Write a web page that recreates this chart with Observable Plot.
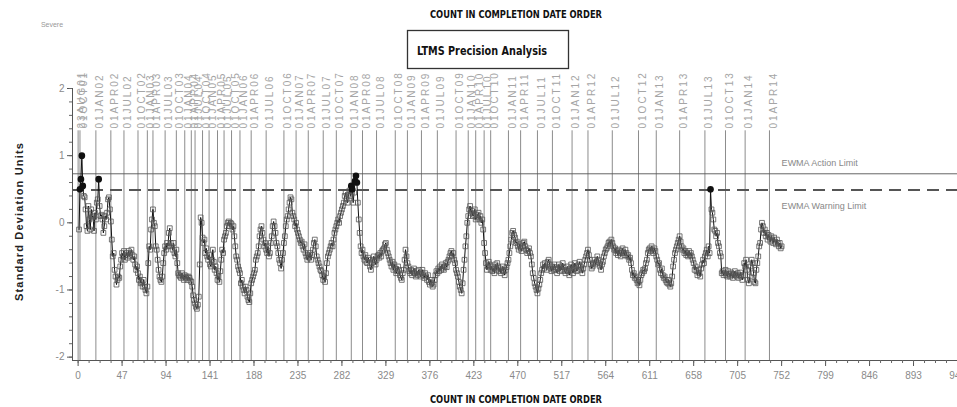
<!DOCTYPE html>
<html><head><meta charset="utf-8">
<script src="https://cdn.jsdelivr.net/npm/d3@7"></script>
<script src="https://cdn.jsdelivr.net/npm/@observablehq/plot@0.6"></script>
<style>
body{margin:0;background:#fff;}
#chart{width:957px;height:407px;}
</style></head><body><div id="chart"></div>
<script>
const ewma = [
-0.10,0.50,0.65,1.00,0.55,0.40,0.38,0.20,-0.05,-0.12,
0.25,0.05,-0.10,0.20,0.08,0.10,-0.12,0.15,0.05,0.30,
0.35,0.65,0.25,0.10,0.12,0.05,-0.15,-0.05,0.10,0.05,
0.15,0.35,0.38,0.20,0.02,-0.25,-0.50,-0.45,-0.70,-0.80,
-0.92,-0.85,-0.80,-0.82,-0.65,-0.55,-0.45,-0.50,-0.42,-0.55,
-0.48,-0.45,-0.52,-0.42,-0.50,-0.45,-0.40,-0.48,-0.55,-0.50,
-0.62,-0.70,-0.65,-0.75,-0.85,-0.80,-0.90,-0.88,-0.95,-0.85,
-0.95,-1.00,-1.05,-0.95,-0.60,-0.35,-0.40,-0.10,0.05,0.20,
0.00,-0.05,-0.35,-0.40,-0.55,-0.70,-0.80,-0.85,-0.88,-0.80,
-0.60,-0.45,-0.35,-0.40,-0.30,-0.35,-0.15,-0.08,-0.30,-0.35,
-0.40,-0.30,-0.45,-0.50,-0.40,-0.60,-0.75,-0.78,-0.80,-0.82,
-0.75,-0.80,-0.85,-0.78,-0.82,-0.80,-0.85,-0.80,-0.82,-0.86,
-0.88,-0.95,-1.08,-1.15,-1.20,-1.25,-1.28,-1.22,-1.10,-0.62,
0.08,0.00,-0.22,-0.30,-0.25,-0.45,-0.38,-0.50,-0.55,-0.48,
-0.62,-0.65,-0.55,-0.40,-0.58,-0.70,-0.65,-0.75,-0.85,-0.80,
-0.88,-0.72,-0.55,-0.40,-0.45,-0.25,-0.20,-0.15,-0.05,0.00,
0.02,-0.05,0.00,-0.02,-0.10,-0.05,-0.20,-0.35,-0.50,-0.55,
-0.65,-0.70,-0.75,-0.90,-0.85,-0.95,-1.00,-1.05,-0.95,-1.00,
-1.10,-1.15,-1.18,-1.05,-0.90,-0.85,-0.80,-0.75,-0.70,-0.55,
-0.50,-0.45,-0.35,-0.20,-0.10,-0.05,-0.15,-0.25,-0.35,-0.30,
-0.40,-0.45,-0.35,-0.50,-0.45,-0.30,-0.20,-0.05,0.02,-0.05,
-0.15,-0.30,-0.35,-0.45,-0.55,-0.60,-0.68,-0.55,-0.45,-0.30,
-0.20,-0.05,0.05,0.10,0.20,0.30,0.38,0.35,0.15,0.10,
0.05,-0.05,0.00,-0.10,-0.15,-0.20,-0.25,-0.30,-0.28,-0.35,
-0.40,-0.32,-0.45,-0.50,-0.55,-0.48,-0.52,-0.45,-0.55,-0.48,
-0.40,-0.30,-0.25,-0.35,-0.50,-0.55,-0.60,-0.65,-0.70,-0.72,
-0.78,-0.85,-0.80,-0.88,-0.75,-0.60,-0.50,-0.45,-0.40,-0.35,
-0.30,-0.35,-0.25,-0.15,-0.10,-0.05,0.00,0.05,0.00,0.10,
0.15,0.20,0.25,0.30,0.40,0.45,0.35,0.30,0.42,0.48,
0.40,0.55,0.50,0.30,0.45,0.62,0.70,0.60,0.30,0.05,
-0.15,-0.35,-0.45,-0.40,-0.50,-0.55,-0.48,-0.58,-0.60,-0.52,
-0.55,-0.65,-0.70,-0.60,-0.55,-0.50,-0.58,-0.62,-0.55,-0.50,
-0.48,-0.52,-0.45,-0.50,-0.42,-0.40,-0.38,-0.32,-0.30,-0.40,
-0.45,-0.50,-0.55,-0.60,-0.65,-0.58,-0.70,-0.62,-0.68,-0.75,
-0.72,-0.65,-0.70,-0.78,-0.82,-0.85,-0.75,-0.70,-0.55,-0.40,
-0.50,-0.60,-0.65,-0.72,-0.75,-0.70,-0.78,-0.72,-0.68,-0.75,
-0.80,-0.72,-0.78,-0.70,-0.76,-0.80,-0.74,-0.70,-0.78,-0.82,
-0.75,-0.80,-0.85,-0.78,-0.88,-0.92,-0.85,-0.90,-0.95,-0.92,
-0.85,-0.78,-0.72,-0.75,-0.68,-0.72,-0.65,-0.70,-0.62,-0.68,
-0.70,-0.65,-0.60,-0.66,-0.58,-0.55,-0.50,-0.45,-0.42,-0.50,
-0.45,-0.55,-0.60,-0.70,-0.75,-0.80,-0.88,-0.95,-1.00,-1.05,
-0.90,-0.70,-0.55,-0.35,-0.20,0.00,0.10,0.20,0.25,0.15,
0.18,0.10,0.12,0.20,0.05,0.08,0.12,0.15,0.05,0.10,
0.00,0.05,-0.10,-0.30,-0.45,-0.60,-0.70,-0.65,-0.58,-0.62,
-0.70,-0.65,-0.72,-0.68,-0.75,-0.62,-0.70,-0.60,-0.65,-0.72,
-0.68,-0.75,-0.70,-0.65,-0.72,-0.78,-0.70,-0.66,-0.60,-0.55,
-0.45,-0.35,-0.25,-0.15,-0.12,-0.18,-0.22,-0.30,-0.28,-0.35,
-0.40,-0.32,-0.38,-0.42,-0.35,-0.30,-0.28,-0.35,-0.40,-0.45,
-0.42,-0.38,-0.45,-0.50,-0.62,-0.75,-0.82,-0.90,-0.95,-1.00,
-1.05,-0.98,-0.92,-0.85,-0.75,-0.70,-0.62,-0.68,-0.60,-0.65,
-0.70,-0.58,-0.55,-0.62,-0.68,-0.72,-0.65,-0.70,-0.62,-0.66,
-0.70,-0.75,-0.68,-0.62,-0.72,-0.65,-0.70,-0.60,-0.66,-0.72,
-0.75,-0.70,-0.65,-0.72,-0.78,-0.68,-0.62,-0.70,-0.75,-0.68,
-0.60,-0.65,-0.72,-0.70,-0.62,-0.58,-0.65,-0.70,-0.75,-0.68,
-0.62,-0.55,-0.50,-0.45,-0.40,-0.48,-0.55,-0.62,-0.68,-0.65,
-0.60,-0.55,-0.62,-0.58,-0.50,-0.55,-0.60,-0.65,-0.70,-0.62,
-0.58,-0.50,-0.45,-0.40,-0.38,-0.35,-0.30,-0.28,-0.32,-0.25,
-0.30,-0.35,-0.40,-0.38,-0.45,-0.42,-0.48,-0.40,-0.45,-0.50,
-0.42,-0.38,-0.45,-0.48,-0.40,-0.45,-0.50,-0.48,-0.55,-0.52,
-0.60,-0.70,-0.78,-0.75,-0.82,-0.80,-0.85,-0.90,-0.88,-0.93,
-0.85,-0.78,-0.75,-0.70,-0.72,-0.68,-0.60,-0.55,-0.45,-0.40,
-0.38,-0.42,-0.35,-0.40,-0.45,-0.38,-0.42,-0.50,-0.55,-0.62,
-0.60,-0.70,-0.75,-0.68,-0.78,-0.82,-0.80,-0.85,-0.88,-0.90,
-0.85,-0.92,-0.95,-0.90,-0.80,-0.65,-0.55,-0.45,-0.40,-0.35,
-0.30,-0.25,-0.20,-0.28,-0.35,-0.40,-0.38,-0.45,-0.42,-0.48,
-0.45,-0.50,-0.42,-0.48,-0.45,-0.50,-0.55,-0.60,-0.70,-0.65,
-0.72,-0.78,-0.70,-0.75,-0.80,-0.68,-0.62,-0.55,-0.60,-0.50,
-0.45,-0.40,-0.50,-0.35,-0.45,0.50,0.20,0.15,0.05,-0.10,
-0.12,-0.20,-0.15,-0.30,-0.35,-0.45,-0.50,-0.75,-0.72,-0.78,
-0.75,-0.70,-0.78,-0.80,-0.72,-0.76,-0.80,-0.74,-0.78,-0.82,
-0.76,-0.72,-0.78,-0.80,-0.75,-0.82,-0.78,-0.74,-0.80,-0.85,
-0.78,-0.60,-0.65,-0.55,-0.70,-0.85,-0.90,-0.80,-0.65,-0.55,
-0.60,-0.75,-0.88,-0.90,-0.70,-0.60,-0.50,-0.35,-0.30,-0.10,
0.00,-0.05,-0.15,-0.10,-0.20,-0.15,-0.25,-0.18,-0.22,-0.28,
-0.20,-0.25,-0.30,-0.22,-0.28,-0.32,-0.25,-0.30,-0.35,-0.30,
-0.38,-0.35
];
const dateLabels = ["23AUG01","01OCT01","01JAN02","01APR02","01JUL02","01OCT02","01JAN03","01APR03","01JUL03","01OCT03",
"01JAN04","01APR04","01JUL04","01OCT04","01JAN05","01APR05","01JUL05","01OCT05","01JAN06","01APR06",
"01JUL06","01OCT06","01JAN07","01APR07","01JUL07","01OCT07","01JAN08","01APR08","01JUL08","01OCT08",
"01JAN09","01APR09","01JUL09","01OCT09","01JAN10","01APR10","01JUL10","01OCT10","01JAN11","01APR11",
"01JUL11","01OCT11","01JAN12","01APR12","01JUL12","01OCT12","01JAN13","01APR13","01JUL13","01OCT13",
"01JAN14","01APR14"];
const dateCounts = [0,2,19,35,49,64,74,80,93,105,
114,121,125,133,140,149,156,164,173,185,
201,220,233,246,262,276,292,304,319,339,
352,367,384,404,417,425,434,441,460,473,
491,507,528,545,571,599,618,643,670,692,
713,739];
const xTicks = [0,47,94,141,188,235,282,329,376,423,470,517,564,611,658,705,752,799,846,893,940];
const yTicks = [-2,-1,0,1,2];
const actionLimit = 0.73;
const warningLimit = 0.49;
const actionLabel = "EWMA Action Limit";
const warningLabel = "EWMA Warning Limit";
const titleText = "COUNT IN COMPLETION DATE ORDER";
const boxTitle = "LTMS Precision Analysis";
const cornerNote = "Severe";
const yLabel = "Standard Deviation Units";

const data = ewma.map((v, i) => ({count: i + 1, value: v}));
const dates = dateLabels.map((label, i) => ({label, count: dateCounts[i]}));
const xMinor = d3.range(0, 941, 11.75);
const yMinor = d3.range(-20, 21, 2).map(d => d / 10);

const xDom = [-6, 940], yDom = [-2.05, 2];
const gray = "#8a8a8a";

const chart = Plot.plot({
  width: 957, height: 407,
  marginTop: 88, marginBottom: 47, marginLeft: 72, marginRight: 0,
  x: {domain: xDom},
  y: {domain: yDom},
  style: {fontFamily: "'Liberation Sans', Arial, sans-serif", fontSize: "10px", background: "white", overflow: "visible"},
  marks: [
    Plot.ruleX(dates, {x: "count", y1: 1.37, y2: -2.05, stroke: "#8c8c8c", strokeWidth: 1}),
    Plot.text(dates, {x: "count", text: "label", frameAnchor: "top", dy: 40, rotate: -90, textAnchor: "start",
      fill: "#a5a5a5", fontSize: 10}),
    Plot.ruleX([xDom[0]], {y1: -2.05, y2: 2, stroke: "#555"}),
    Plot.ruleY([yDom[0]], {x1: xDom[0], x2: 940, stroke: "#555"}),
    Plot.axisX({ticks: xTicks, tickSize: 6, tickPadding: 5, label: null, fill: gray, stroke: "#555", fontSize: 10, tickFormat: d => String(d)}),
    Plot.axisX({ticks: xMinor, tickSize: 3, text: null, label: null, stroke: "#666"}),
    Plot.axisY({ticks: yTicks, tickSize: 5, tickPadding: 3, label: null, fill: gray, stroke: "#555", fontSize: 10, tickFormat: d => String(d)}),
    Plot.axisY({ticks: yMinor, tickSize: 3, text: null, label: null, stroke: "#666"}),
    Plot.ruleY([actionLimit], {x1: xDom[0], x2: 940, stroke: "#555", strokeWidth: 0.9}),
    Plot.ruleY([warningLimit], {x1: xDom[0], x2: 940, stroke: "#555", strokeWidth: 2, strokeDasharray: "12,7"}),
    Plot.text([actionLabel], {x: 752, y: actionLimit, text: d => d, dy: -11, textAnchor: "start", fill: "#888", fontSize: 9}),
    Plot.text([warningLabel], {x: 752, y: warningLimit, text: d => d, dy: 16, textAnchor: "start", fill: "#888", fontSize: 9}),
    Plot.line(data, {x: "count", y: "value", stroke: "#111", strokeWidth: 1}),
    Plot.dot(data.filter(d => d.value < warningLimit), {x: "count", y: "value", symbol: "square", r: 2.7, stroke: "#555", strokeWidth: 0.8, fill: "none"}),
    Plot.dot(data.filter(d => d.value >= warningLimit), {x: "count", y: "value", symbol: "circle", r: 2.6, fill: "#111", stroke: "#111"})
  ]
});
document.getElementById("chart").appendChild(chart);

const svg = d3.select(chart);
svg.selectAll("text").filter(function() { return dateLabels.includes(this.textContent); })
  .attr("letter-spacing", "2px").style("letter-spacing", "2px");
const narrow = "'Liberation Sans Narrow', 'DejaVu Sans Condensed', 'Liberation Sans', sans-serif";
svg.append("text").attr("x", 516).attr("y", 18).attr("text-anchor", "middle")
  .attr("font-family", narrow).attr("font-weight", "bold").attr("font-size", 10)
  .attr("textLength", 172).attr("lengthAdjust", "spacingAndGlyphs").attr("fill", "#111").text(titleText);
svg.append("text").attr("x", 516).attr("y", 403).attr("text-anchor", "middle")
  .attr("font-family", narrow).attr("font-weight", "bold").attr("font-size", 10)
  .attr("textLength", 172).attr("lengthAdjust", "spacingAndGlyphs").attr("fill", "#111").text(titleText);
svg.append("rect").attr("x", 407.5).attr("y", 30.5).attr("width", 161).attr("height", 38)
  .attr("fill", "none").attr("stroke", "#333").attr("stroke-width", 1.3);
svg.append("text").attr("x", 482).attr("y", 55).attr("text-anchor", "middle")
  .attr("font-family", narrow).attr("font-weight", "bold").attr("font-size", 12)
  .attr("textLength", 130).attr("lengthAdjust", "spacingAndGlyphs").attr("fill", "#111").text(boxTitle);
svg.append("text").attr("x", 52).attr("y", 27).attr("font-family", "'Liberation Sans', sans-serif")
  .attr("font-size", 7).attr("fill", "#999").text(cornerNote);
svg.append("text").attr("transform", "translate(23,222) rotate(-90)").attr("text-anchor", "middle")
  .attr("font-family", "'Liberation Sans', Arial, sans-serif").attr("font-weight", "bold").attr("font-size", 11)
  .attr("textLength", 158).attr("lengthAdjust", "spacing").attr("fill", "#222").text(yLabel);
</script></body></html>
